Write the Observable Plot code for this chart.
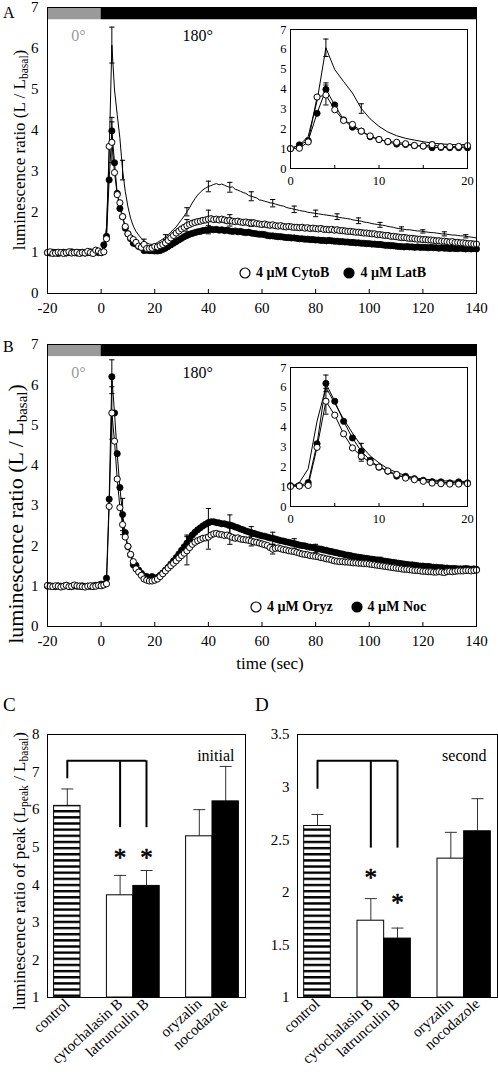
<!DOCTYPE html>
<html><head><meta charset="utf-8">
<script src="https://cdn.jsdelivr.net/npm/d3@7"></script>
<script src="https://cdn.jsdelivr.net/npm/@observablehq/plot@0.6"></script>
<style>
body{margin:0;background:#fff;}
#root{position:relative;width:498px;height:1079px;overflow:hidden;background:#fff;font-family:"Liberation Serif","Times New Roman",serif;color:#000;}
#root > svg{position:absolute;}
#root svg text{font-family:"Liberation Serif","Times New Roman",serif !important;}
.lbl{position:absolute;white-space:nowrap;line-height:1;}
.rot{transform:translate(-50%,-50%) rotate(-90deg);}
sub{font-size:0.68em;vertical-align:-0.28em;line-height:0;}
.leg{position:absolute;display:flex;align-items:center;font-weight:bold;font-size:14px;white-space:nowrap;}
.leg svg{display:block;}
</style></head><body><div id="root">
<svg width="0" height="0" style="position:absolute"><defs>
<pattern id="hstripes" patternUnits="userSpaceOnUse" x="0" y="3.9" width="10" height="6.15"><rect width="10" height="6.15" fill="#fff"/><rect y="0" width="10" height="2.4" fill="#000"/></pattern>
</defs></svg>
</div><script>
const FONT = '"Liberation Serif","Times New Roman",serif';
// ---------- time grids ----------
const times = d3.range(-20, 141);      // 1-s sampling, -20..140 s
const insetTimes = d3.range(0, 21);    // inset 0..20 s

// ---------- Panel A ----------
const controlA = [
1.00,1.01,0.99,1.00,1.02,1.00,0.99,1.01,1.00,1.00,1.02,1.01,0.99,1.00,1.01,1.00,1.00,1.02,1.03,1.01,1.00,
1.17,1.62,3.40,6.08,4.98,4.38,3.80,3.02,2.50,2.12,1.84,1.65,1.52,1.43,1.35,1.28,1.24,1.21,1.20,1.21,
1.25,1.29,1.33,1.38,1.44,1.50,1.57,1.63,1.72,1.81,1.90,2.00,2.10,2.22,2.32,2.41,2.48,2.54,2.58,2.62,
2.64,2.67,2.69,2.66,2.68,2.65,2.62,2.60,2.61,2.55,2.53,2.50,2.47,2.45,2.40,2.38,2.36,2.34,2.29,2.28,
2.26,2.24,2.22,2.21,2.19,2.17,2.15,2.14,2.11,2.09,2.08,2.06,2.05,2.03,2.02,2.01,1.99,1.98,1.97,1.96,
1.95,1.94,1.93,1.92,1.91,1.90,1.89,1.88,1.86,1.85,1.84,1.83,1.82,1.80,1.79,1.78,1.77,1.75,1.74,1.73,
1.71,1.70,1.69,1.68,1.67,1.66,1.64,1.63,1.62,1.60,1.59,1.58,1.57,1.56,1.56,1.55,1.54,1.53,1.53,1.52,
1.51,1.50,1.49,1.49,1.48,1.47,1.46,1.46,1.45,1.44,1.43,1.43,1.42,1.41,1.41,1.40,1.39,1.38,1.37,1.36];
const cytoB = [
1.00,1.02,0.98,0.99,1.01,1.00,0.98,1.00,1.02,0.99,1.00,1.01,0.98,1.00,0.99,1.03,1.00,0.98,1.06,1.04,1.00,
1.02,1.34,3.60,3.70,2.96,2.42,2.22,1.88,1.64,1.46,1.36,1.32,1.25,1.16,1.13,1.20,1.10,1.10,1.11,1.15,
1.14,1.17,1.20,1.24,1.30,1.36,1.42,1.48,1.53,1.58,1.62,1.66,1.69,1.72,1.74,1.76,1.77,1.79,1.80,1.82,
1.83,1.81,1.82,1.80,1.82,1.80,1.78,1.79,1.77,1.76,1.77,1.75,1.74,1.75,1.73,1.72,1.73,1.71,1.70,1.69,
1.70,1.68,1.67,1.68,1.66,1.65,1.66,1.64,1.63,1.64,1.63,1.62,1.62,1.61,1.62,1.60,1.61,1.59,1.60,1.59,
1.58,1.59,1.57,1.57,1.56,1.57,1.55,1.56,1.54,1.54,1.53,1.52,1.52,1.51,1.50,1.50,1.49,1.48,1.48,1.47,
1.46,1.46,1.44,1.44,1.43,1.42,1.42,1.40,1.40,1.39,1.38,1.37,1.37,1.36,1.35,1.35,1.34,1.33,1.33,1.32,
1.32,1.31,1.31,1.30,1.29,1.29,1.28,1.28,1.27,1.26,1.27,1.25,1.25,1.24,1.24,1.23,1.22,1.22,1.21,1.21];
const latB = [
1.00,0.99,1.01,1.00,0.98,1.00,1.01,0.99,1.00,1.02,1.00,0.99,1.00,1.01,0.99,1.00,1.02,1.01,1.03,1.00,1.00,
1.19,1.40,2.78,3.98,3.20,2.45,2.08,1.88,1.60,1.46,1.34,1.23,1.21,1.15,1.13,1.05,1.06,1.05,1.05,1.04,
1.04,1.05,1.08,1.11,1.15,1.19,1.23,1.27,1.31,1.35,1.39,1.42,1.45,1.47,1.49,1.51,1.52,1.54,1.55,1.56,
1.57,1.56,1.57,1.55,1.56,1.54,1.55,1.53,1.52,1.53,1.51,1.52,1.50,1.49,1.50,1.48,1.47,1.46,1.45,1.45,
1.44,1.42,1.41,1.41,1.40,1.39,1.39,1.38,1.37,1.37,1.36,1.36,1.35,1.34,1.34,1.33,1.33,1.32,1.32,1.31,
1.31,1.30,1.30,1.29,1.30,1.29,1.28,1.28,1.27,1.27,1.26,1.26,1.25,1.25,1.24,1.24,1.23,1.23,1.22,1.22,
1.21,1.21,1.20,1.20,1.19,1.18,1.18,1.17,1.17,1.16,1.15,1.15,1.14,1.15,1.14,1.14,1.13,1.14,1.13,1.13,
1.13,1.12,1.13,1.12,1.12,1.11,1.12,1.11,1.11,1.10,1.11,1.10,1.10,1.11,1.10,1.09,1.10,1.09,1.10,1.09];
const controlAErrT = [4,8,16,24,32,40,48,56,64,72,80,88,96,104,112,120,128,136];
const controlAErr  = [0.44,0.24,0.05,0.06,0.10,0.13,0.12,0.11,0.09,0.08,0.08,0.07,0.07,0.06,0.05,0.04,0.05,0.04];
const cytoBErrT = [4,32,40,48,56];
const cytoBErr  = [0.50,0.15,0.22,0.14,0.08];
const latBErrT = [4,40];
const latBErr  = [0.33,0.10];

// ---------- Panel B ----------
const oryz = [
1.02,1.00,0.99,1.01,1.00,0.98,1.00,1.02,0.99,1.00,1.03,1.01,1.00,0.99,0.98,1.00,1.01,0.99,1.00,1.02,1.01,
1.03,1.06,2.98,5.30,4.60,3.66,2.95,2.53,2.22,1.99,1.79,1.61,1.43,1.35,1.27,1.18,1.15,1.13,1.13,1.15,
1.18,1.24,1.31,1.38,1.45,1.51,1.57,1.63,1.70,1.76,1.82,1.88,1.96,2.04,2.09,2.13,2.16,2.19,2.20,2.22,
2.27,2.30,2.31,2.29,2.28,2.26,2.27,2.24,2.21,2.19,2.20,2.17,2.16,2.15,2.14,2.12,2.10,2.09,2.07,2.05,
2.03,2.01,1.96,1.92,1.94,1.95,1.93,1.91,1.90,1.88,1.87,1.86,1.84,1.82,1.80,1.79,1.78,1.76,1.75,1.74,
1.73,1.71,1.70,1.68,1.67,1.65,1.63,1.62,1.61,1.61,1.60,1.60,1.59,1.58,1.58,1.57,1.57,1.56,1.56,1.55,
1.54,1.53,1.52,1.51,1.50,1.49,1.48,1.47,1.46,1.45,1.44,1.43,1.42,1.42,1.41,1.40,1.39,1.39,1.38,1.37,
1.37,1.36,1.36,1.35,1.35,1.36,1.35,1.34,1.36,1.37,1.36,1.37,1.38,1.38,1.38,1.39,1.39,1.38,1.39,1.40];
const noc = [
1.00,1.01,1.00,0.99,1.01,1.00,1.00,1.02,1.00,0.99,1.01,1.00,1.00,1.01,0.99,1.00,1.00,1.01,1.02,1.02,1.05,
1.05,1.20,3.16,6.20,5.30,4.29,3.45,2.78,2.33,1.98,1.78,1.53,1.52,1.40,1.32,1.25,1.24,1.19,1.24,1.19,
1.22,1.27,1.33,1.40,1.47,1.55,1.63,1.71,1.80,1.89,1.98,2.07,2.18,2.27,2.34,2.40,2.45,2.50,2.54,2.58,
2.60,2.60,2.58,2.57,2.55,2.55,2.53,2.52,2.50,2.47,2.45,2.42,2.40,2.37,2.35,2.33,2.31,2.29,2.27,2.25,
2.24,2.22,2.20,2.19,2.17,2.15,2.13,2.12,2.10,2.09,2.07,2.06,2.04,2.02,2.01,2.00,1.98,1.97,1.96,1.94,
1.93,1.92,1.90,1.89,1.87,1.86,1.84,1.83,1.81,1.80,1.78,1.77,1.76,1.74,1.73,1.72,1.71,1.70,1.69,1.68,
1.67,1.66,1.65,1.64,1.63,1.62,1.61,1.60,1.59,1.58,1.57,1.56,1.55,1.54,1.53,1.53,1.52,1.51,1.50,1.50,
1.49,1.49,1.48,1.47,1.47,1.46,1.46,1.45,1.45,1.44,1.44,1.44,1.43,1.43,1.43,1.44,1.43,1.42,1.43,1.42];
const controlBInset = [1.00,1.20,1.90,4.30,6.00,5.20,4.40,3.70,3.05,2.55,2.20,1.90,1.72,1.55,1.45,1.38,1.34,1.30,1.28,1.27,1.26];
const nocErrT = [4,8,32,40,48,56,64,72,80,104];
const nocErr  = [0.42,0.40,0.20,0.35,0.25,0.15,0.15,0.12,0.10,0.08];
const oryzErrT = [4,8,32,40,48,56,64];
const oryzErr  = [0.65,0.25,0.35,0.30,0.20,0.12,0.12];

// ---------- Panels C, D ----------
const treatments = ["control","cytochalasin B","latrunculin B","oryzalin","nocodazole"];
const treatmentGroup = ["control","actin","actin","microtubule","microtubule"];
const initialPeak = [6.10,3.72,3.97,5.29,6.22];
const initialSE   = [0.45,0.53,0.41,0.71,0.93];
const secondPeak  = [2.63,1.73,1.56,2.32,2.58];
const secondSE    = [0.11,0.21,0.10,0.25,0.31];
const initialBracket = 7.30, initialDrops = [6.82,5.52,5.52,null,null], initialStars = [null,4.85,4.85,null,null];
const secondBracket = 3.25, secondDrops = [2.98,2.42,2.42,null,null], secondStars = [null,2.18,1.95,null,null];

// ---------- helpers ----------
const root = document.getElementById("root");
const cap = {draw(ctx, size){ const r = Math.sqrt(size/Math.PI); ctx.moveTo(-r,0); ctx.lineTo(r,0); }};
const rowsOf = (vals, ts) => vals.map((v,i) => ({t: ts[i], v}));
const errRows = (vals, ts, errT, err) => errT.map((t,i) => ({t, v: vals[ts.indexOf(t)], e: err[i]})).filter(d => d.v != null);
const fmt = d => String(d);
function errMarks(rows, capR){
  return [
    Plot.ruleX(rows, {x:"t", y1: d=>d.v-d.e, y2: d=>d.v+d.e, stroke:"#000", strokeWidth:1}),
    Plot.dot(rows, {x:"t", y: d=>d.v+d.e, r:capR, symbol:cap, stroke:"#000", fill:"none", strokeWidth:1}),
    Plot.dot(rows, {x:"t", y: d=>d.v-d.e, r:capR, symbol:cap, stroke:"#000", fill:"none", strokeWidth:1})
  ];
}
function place(el, left, top){ el.style.left = left+"px"; el.style.top = top+"px"; root.appendChild(el); }
function html(s){ const d = document.createElement("div"); d.innerHTML = s; return d.firstElementChild; }

const phaseNames = ["0°","180°"], phaseStart = [-20,0], phaseEnd = [0,140];
const phaseColor = ["#9a9a9a","#000"];

function mainPanel({top, height, marginTop, open, filled, control, errs}){
  const mb = 27, fh = height - marginTop - mb;
  const openRows = rowsOf(open, times), filledRows = rowsOf(filled, times);
  const marks = [];
  phaseNames.forEach((n,i) => {
    marks.push(Plot.rect([i], {x1: phaseStart[i], x2: phaseEnd[i], y1: 6.7, y2: 7, fill: phaseColor[i]}));
  });
  marks.push(Plot.text([phaseNames[0]], {x: -8.5, y: 6.3, text: d=>d, fill: phaseColor[0], fontSize: 16}));
  marks.push(Plot.text([phaseNames[1]], {x: 36, y: 6.3, text: d=>d, fill: "#000", fontSize: 16}));
  if (control) marks.push(Plot.line(rowsOf(control, times), {x:"t", y:"v", stroke:"#000", strokeWidth:1}));
  errs.forEach(e => marks.push(...errMarks(e, 2.6)));
  marks.push(Plot.line(filledRows, {x:"t", y:"v", stroke:"#000", strokeWidth:1}));
  marks.push(Plot.dot(filledRows, {x:"t", y:"v", r:3.1, fill:"#000", stroke:"#000", strokeWidth:0.8}));
  marks.push(Plot.line(openRows, {x:"t", y:"v", stroke:"#000", strokeWidth:1}));
  marks.push(Plot.dot(openRows, {x:"t", y:"v", r:3.1, fill:"#fff", stroke:"#000", strokeWidth:1}));
  marks.push(Plot.frame({stroke:"#000", strokeWidth:1}));
  marks.push(Plot.tickX(d3.range(-20,141,20), {x: d=>d, stroke:"#000", insetTop: fh-4}));
  marks.push(Plot.axisY({ticks: d3.range(0,8), tickSize:0, tickPadding:9, fontSize:15, tickFormat: fmt, fill:"#000"}));
  marks.push(Plot.axisX({ticks: d3.range(-20,141,20), tickSize:0, tickPadding:9, fontSize:15, tickFormat: fmt, fill:"#000"}));
  const svg = Plot.plot({
    width:498, height, marginTop, marginBottom: mb, marginLeft:47, marginRight:22,
    style:{fontFamily:FONT, fontSize:"15px", background:"transparent", color:"#000"},
    x:{domain:[-20,140], label:null}, y:{domain:[0,7], label:null},
    marks
  });
  place(svg, 0, top);
}

function insetPanel({left, top, open, filled, control, controlTimes, errs}){
  const mt = 9, mb = 20, fh = 139;
  const marks = [];
  marks.push(Plot.line(rowsOf(control, controlTimes), {x:"t", y:"v", stroke:"#000", strokeWidth:1}));
  errs.forEach(e => marks.push(...errMarks(e, 2.6)));
  const fr = rowsOf(filled.slice(20, 41), insetTimes), orr = rowsOf(open.slice(20, 41), insetTimes);
  marks.push(Plot.line(fr, {x:"t", y:"v", stroke:"#000", strokeWidth:1}));
  marks.push(Plot.dot(fr, {x:"t", y:"v", r:3.1, fill:"#000", stroke:"#000", strokeWidth:0.8}));
  marks.push(Plot.line(orr, {x:"t", y:"v", stroke:"#000", strokeWidth:1}));
  marks.push(Plot.dot(orr, {x:"t", y:"v", r:3.1, fill:"#fff", stroke:"#000", strokeWidth:1}));
  marks.push(Plot.frame({stroke:"#000", strokeWidth:1}));
  marks.push(Plot.tickX(d3.range(0,21,5), {x:d=>d, stroke:"#000", insetTop: fh-3}));
  marks.push(Plot.axisY({ticks: d3.range(0,8), tickSize:0, tickPadding:4, fontSize:12.5, tickFormat: fmt, fill:"#000"}));
  marks.push(Plot.axisX({ticks: [0,10,20], tickSize:0, tickPadding:8, fontSize:12.5, tickFormat: fmt, fill:"#000"}));
  const svg = Plot.plot({
    width:217, height: mt+fh+mb, marginTop: mt, marginBottom: mb, marginLeft:30, marginRight:10,
    style:{fontFamily:FONT, fontSize:"12.5px", background:"transparent", color:"#000"},
    x:{domain:[0,20], label:null}, y:{domain:[0,7], label:null},
    marks
  });
  place(svg, left, top);
}

// slots for grouped bars (gap between treatment groups)
const slots = []; { let s = 0, prev = null; treatmentGroup.forEach(g => { if (prev !== null && g !== prev) s++; slots.push(s); s++; prev = g; }); }
const nSlots = slots[slots.length-1] + 1;
const slotName = new Map(slots.map((s,i) => [s+0.5, treatments[i]]));
const fillFor = {"control":"url(#hstripes)","cytochalasin B":"#fff","latrunculin B":"#000","oryzalin":"#fff","nocodazole":"#000"};

function barPanel({left, width, marginRight, yDomain, yTicks, means, ses, bracket, drops, stars, label}){
  const rows = treatments.map((c,i) => ({c, s: slots[i], m: means[i], e: ses[i], drop: drops[i], star: stars[i]}));
  const mid = d => d.s + 0.5;
  const dropRows = rows.filter(d => d.drop != null);
  const svg = Plot.plot({
    width, height:359, marginTop:14, marginBottom:82, marginLeft:47, marginRight,
    style:{fontFamily:FONT, fontSize:"15px", background:"transparent", color:"#000"},
    x:{domain:[-0.25, nSlots+0.25], label:null},
    y:{domain:yDomain, label:null},
    color:{type:"identity"},
    marks:[
      Plot.ruleX(rows, {x: mid, y1:"m", y2: d=>d.m+d.e, stroke:"#333", strokeWidth:1}),
      Plot.dot(rows, {x: mid, y: d=>d.m+d.e, r:6, symbol:cap, stroke:"#333", fill:"none", strokeWidth:1}),
      Plot.rect(rows, {x1: d=>d.s, x2: d=>d.s+1, y1: yDomain[0], y2:"m", fill: d=>fillFor[d.c], stroke:"#000", strokeWidth:1}),
      Plot.ruleY([bracket], {y: d=>d, x1: mid(dropRows[0]), x2: mid(dropRows[dropRows.length-1]), stroke:"#000", strokeWidth:2}),
      Plot.ruleX(dropRows, {x: mid, y1:"drop", y2: bracket, stroke:"#000", strokeWidth:2}),
      Plot.text(rows.filter(d => d.star != null), {x: mid, y:"star", text: () => "*", fontSize:25, dy:5, fill:"#000", stroke:"#000", strokeWidth:0.6}),
      Plot.text([label], {frameAnchor:"top-right", text:d=>d, dx:-11, dy:15, fontSize:16, textAnchor:"end", fill:"#000"}),
      Plot.frame({stroke:"#000", strokeWidth:1}),
      Plot.axisY({ticks:yTicks, tickSize:0, tickPadding:8, fontSize:15, tickFormat: fmt, fill:"#000"}),
      Plot.axisX({ticks:[...slotName.keys()], tickFormat: d => slotName.get(d), tickRotate:-42, tickSize:0, tickPadding:4, fontSize:15, fill:"#000"})
    ]
  });
  place(svg, left, 720);
}

// ---------- draw ----------
mainPanel({top:0, height:320, marginTop:7, open:cytoB, filled:latB, control:controlA,
  errs:[errRows(controlA, times, controlAErrT, controlAErr), errRows(latB, times, latBErrT, latBErr), errRows(cytoB, times, cytoBErrT, cytoBErr)]});
insetPanel({left:260, top:20, open:cytoB, filled:latB, control:controlA.slice(20,41), controlTimes:insetTimes,
  errs:[errRows(controlA, times, controlAErrT, controlAErr).filter(d=>d.t<=20), errRows(latB, times, latBErrT, latBErr).filter(d=>d.t<=20), errRows(cytoB, times, cytoBErrT, cytoBErr).filter(d=>d.t<=20)]});

mainPanel({top:330, height:323, marginTop:14, open:oryz, filled:noc, control:null,
  errs:[errRows(noc, times, nocErrT, nocErr), errRows(oryz, times, oryzErrT, oryzErr)]});
insetPanel({left:260, top:358, open:oryz, filled:noc, control:controlBInset, controlTimes:insetTimes,
  errs:[errRows(noc, times, nocErrT, nocErr).filter(d=>d.t<=20), errRows(oryz, times, oryzErrT, oryzErr).filter(d=>d.t<=20)]});

barPanel({left:0, width:250, marginRight:5, yDomain:[1,8], yTicks:d3.range(1,9), means:initialPeak, ses:initialSE,
  bracket:initialBracket, drops:initialDrops, stars:initialStars, label:"initial"});
barPanel({left:250, width:248, marginRight:1, yDomain:[1,3.5], yTicks:[1,1.5,2,2.5,3,3.5], means:secondPeak, ses:secondSE,
  bracket:secondBracket, drops:secondDrops, stars:secondStars, label:"second"});

// ---------- text overlays ----------
const circ = (fill) => `<svg width="12" height="12"><circle cx="6" cy="6" r="5" fill="${fill}" stroke="#000" stroke-width="1.2"/></svg>`;
place(html(`<div class="leg" style="height:18px">${circ("#fff")}<span style="margin-left:5px">4 µM CytoB</span><span style="margin-left:14px"></span>${circ("#000")}<span style="margin-left:5px">4 µM LatB</span></div>`), 239, 264);
place(html(`<div class="leg" style="height:18px">${circ("#fff")}<span style="margin-left:5px">4 µM Oryz</span><span style="margin-left:18px"></span>${circ("#000")}<span style="margin-left:5px">4 µM Noc</span></div>`), 250, 598);

place(html(`<div class="lbl" style="font-size:16px">A</div>`), 3, 5);
place(html(`<div class="lbl" style="font-size:16px">B</div>`), 3, 339);
place(html(`<div class="lbl" style="font-size:19px">C</div>`), 3, 695);
place(html(`<div class="lbl" style="font-size:19px">D</div>`), 255, 695);

place(html(`<div class="lbl rot" style="font-size:17px">luminescence ratio (L / L<sub>basal</sub>)</div>`), 19, 150);
place(html(`<div class="lbl rot" style="font-size:22px">luminescence ratio (L / L<sub>basal</sub>)</div>`), 16, 514);
place(html(`<div class="lbl rot" style="font-size:17px">luminescence ratio of peak (L<sub>peak</sub> / L<sub>basal</sub>)</div>`), 19, 871);
place(html(`<div class="lbl" style="font-size:17px;transform:translate(-50%,-50%)">time (sec)</div>`), 270, 663);
</script></body></html>
